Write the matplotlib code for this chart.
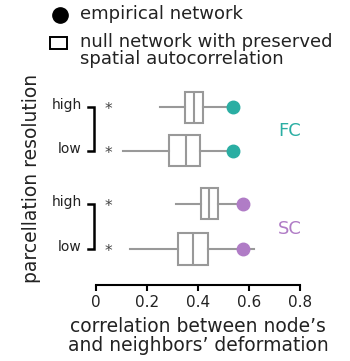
import matplotlib
matplotlib.use('Agg')
import matplotlib.pyplot as plt
from matplotlib.lines import Line2D
from matplotlib.patches import Rectangle

# box stats of null networks, read per row: (whisker low, q1, median, q3, whisker high)
rows = ['FC high', 'FC low', 'SC high', 'SC low']
whislo = [0.25, 0.105, 0.315, 0.135]
q1 = [0.35, 0.285, 0.41, 0.32]
med = [0.385, 0.353, 0.443, 0.38]
q3 = [0.42, 0.408, 0.478, 0.44]
whishi = [0.515, 0.535, 0.56, 0.62]
empirical = [0.537, 0.537, 0.577, 0.577]
ypos = [3.15, 2.18, 1.0, 0.0]
colors = ['#2aaea3', '#2aaea3', '#b07cc6', '#b07cc6']

box_color = '#999999'
text_color = '#222222'

fig = plt.figure(figsize=(3.5, 3.61), dpi=100)
ax = fig.add_axes([96 / 350, 1 - 285 / 361, 204 / 350, 200 / 361])

stats = []
for i in range(len(rows)):
    stats.append({'whislo': whislo[i], 'q1': q1[i], 'med': med[i], 'q3': q3[i],
                  'whishi': whishi[i], 'fliers': []})

ax.bxp(stats, positions=ypos, vert=False, widths=0.69, showcaps=False,
       patch_artist=True,
       boxprops=dict(facecolor='white', edgecolor=box_color, linewidth=1.5),
       medianprops=dict(color=box_color, linewidth=1.5),
       whiskerprops=dict(color=box_color, linewidth=1.5))

for y, v, c in zip(ypos, empirical, colors):
    ax.plot(v, y, 'o', color=c, markersize=9, zorder=5)

# significance marks
for y in ypos:
    ax.text(0.048, y - 0.05, '*', ha='center', va='center', fontsize=11, color='#444444')

# brackets linking high/low resolution
for top, bot in [(ypos[0], ypos[1]), (ypos[2], ypos[3])]:
    ax.plot([-0.03, -0.008, -0.008, -0.03], [top, top, bot, bot], color='black',
            linewidth=1.8, clip_on=False, solid_joinstyle='miter')
    ax.text(-0.055, top + 0.05, 'high', ha='right', va='center', fontsize=10, color=text_color)
    ax.text(-0.055, bot + 0.05, 'low', ha='right', va='center', fontsize=10, color=text_color)

ax.text(0.76, 2.62, 'FC', ha='center', va='center', fontsize=13, color=colors[0])
ax.text(0.76, 0.45, 'SC', ha='center', va='center', fontsize=13, color=colors[2])

ax.set_xlim(0, 0.8)
ax.set_ylim(-0.8, 3.64)
ax.set_xticks([0, 0.2, 0.4, 0.6, 0.8])
ax.set_xticklabels(['0', '0.2', '0.4', '0.6', '0.8'])
ax.set_yticks([])
for s in ['top', 'right', 'left']:
    ax.spines[s].set_visible(False)
ax.spines['bottom'].set_linewidth(1.5)
ax.tick_params(axis='x', direction='out', length=4, width=1.5, labelsize=11,
               labelcolor=text_color, pad=3)
ax.set_xlabel("correlation between node\u2019s\nand neighbors\u2019 deformation",
              fontsize=13.5, color=text_color, labelpad=5, linespacing=1.05)
fig.text(32 / 350, 1 - 178 / 361, 'parcellation resolution', rotation=90,
         ha='center', va='center', fontsize=13.5, color=text_color)

# legend
fig.add_artist(Line2D([60 / 350], [1 - 15 / 361], marker='o', linestyle='none',
                      color='black', markersize=11, transform=fig.transFigure))
fig.add_artist(Rectangle((50 / 350, 1 - 49 / 361), 17 / 350, 12 / 361, facecolor='white',
                         edgecolor='black', linewidth=1.4, transform=fig.transFigure))
fig.text(80 / 350, 1 - 14 / 361, 'empirical network', ha='left', va='center',
         fontsize=13, color=text_color)
fig.text(80 / 350, 1 - 33 / 361, 'null network with preserved\nspatial autocorrelation',
         ha='left', va='top', fontsize=13, color=text_color, linespacing=0.95)

fig.savefig('out.png', dpi=100)
